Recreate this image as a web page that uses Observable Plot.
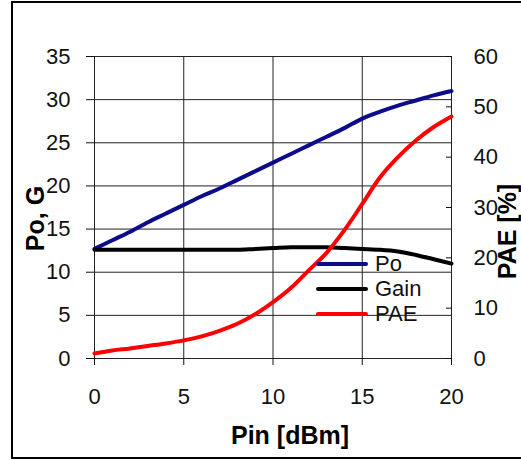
<!DOCTYPE html>
<html>
<head>
<meta charset="utf-8">
<script src="https://cdn.jsdelivr.net/npm/d3@7"></script>
<script src="https://cdn.jsdelivr.net/npm/@observablehq/plot@0.6"></script>
<style>
  html, body { margin: 0; padding: 0; background: #fff; overflow: hidden; }
  #wrap { position: relative; width: 521px; height: 460px; font-family: "Liberation Sans", Arial, sans-serif; }
  #border { position: absolute; left: 11px; top: 1px; width: 600px; height: 454px; border: 2px solid #000; pointer-events: none; }
  #legend { position: absolute; left: 316px; top: 251px; font-size: 22px; color: #111; }
  .row { display: flex; align-items: center; height: 25px; line-height: 25px; }
  .sw { width: 52px; height: 4px; border-radius: 2px; margin-right: 7px; }
</style>
</head>
<body>
<div id="wrap"><div id="chart"></div><div id="legend"></div><div id="border"></div></div>
<script>
const pin  = [0, 1, 2, 3, 4, 5, 6, 7, 8, 9, 10, 11, 12, 13, 14, 15, 16, 17, 18, 19, 20];
const po   = [12.7, 13.7, 14.7, 15.8, 16.8, 17.8, 18.8, 19.7, 20.7, 21.7, 22.7, 23.7, 24.7, 25.7, 26.7, 27.8, 28.6, 29.3, 29.9, 30.5, 31.0];
const gain = [12.6, 12.6, 12.6, 12.6, 12.6, 12.6, 12.6, 12.6, 12.6, 12.7, 12.8, 12.9, 12.9, 12.9, 12.8, 12.7, 12.6, 12.4, 12.0, 11.5, 11.0];
const pae  = [1.0, 1.6, 2.0, 2.5, 3.0, 3.6, 4.4, 5.5, 6.9, 8.8, 11.2, 14.0, 17.5, 21.0, 25.5, 30.7, 36.0, 40.0, 43.3, 46.0, 48.1];

const xTicks = [0, 5, 10, 15, 20];
const leftTicks = [0, 5, 10, 15, 20, 25, 30, 35];
const rightTicks = [0, 10, 20, 30, 40, 50, 60];
const leftMax = 35, rightMax = 60;

const seriesNames = ["Po", "Gain", "PAE"];
const seriesColors = ["#0b0b8c", "#000000", "#ff0000"];

const data = pin.map((p, i) => ({pin: p, po: po[i], gain: gain[i], pae: pae[i]}));
const toLeft = v => v * leftMax / rightMax;

const titleStyle = {textAnchor: "middle", lineAnchor: "middle", fontWeight: "bold", fontSize: 25, fill: "#000"};

const chart = Plot.plot({
  width: 521,
  height: 460,
  marginLeft: 94,
  marginRight: 70,
  marginTop: 56,
  marginBottom: 102,
  style: {fontFamily: '"Liberation Sans", Arial, sans-serif', fontSize: "22px", color: "#111", background: "transparent", overflow: "visible"},
  x: {domain: [0, 20]},
  y: {domain: [0, leftMax]},
  marks: [
    Plot.gridX(xTicks, {stroke: "#222", strokeOpacity: 1, strokeWidth: 1}),
    Plot.gridY(leftTicks, {stroke: "#222", strokeOpacity: 1, strokeWidth: 1}),
    Plot.axisX(xTicks, {tickSize: 7, tickPadding: 23, label: null}),
    Plot.axisY(leftTicks, {anchor: "left", tickSize: 8, tickPadding: 16, label: null}),
    Plot.axisY(rightTicks.map(toLeft), {anchor: "right", tickSize: -6, tickPadding: 28, label: null, tickFormat: d => String(Math.round(d * rightMax / leftMax))}),
    Plot.line(data, {x: "pin", y: "po", stroke: seriesColors[0], strokeWidth: 4, curve: "catmull-rom"}),
    Plot.line(data, {x: "pin", y: "gain", stroke: seriesColors[1], strokeWidth: 4, curve: "catmull-rom"}),
    Plot.line(data, {x: "pin", y: d => toLeft(d.pae), stroke: seriesColors[2], strokeWidth: 4, curve: "catmull-rom"}),
    Plot.text(["Po, G"], {frameAnchor: "left", dx: -59, dy: 11, rotate: -90, ...titleStyle}),
    Plot.text(["PAE [%]"], {frameAnchor: "right", dx: 56, dy: 24, rotate: -90, ...titleStyle}),
    Plot.text(["Pin [dBm]"], {frameAnchor: "bottom", dx: 17, dy: 77, ...titleStyle})
  ]
});
document.getElementById("chart").appendChild(chart);

const legend = document.getElementById("legend");
seriesNames.forEach((name, i) => {
  const row = document.createElement("div");
  row.className = "row";
  const sw = document.createElement("div");
  sw.className = "sw";
  sw.style.background = seriesColors[i];
  const lab = document.createElement("span");
  lab.textContent = name;
  row.appendChild(sw);
  row.appendChild(lab);
  legend.appendChild(row);
});
</script>
</body>
</html>
